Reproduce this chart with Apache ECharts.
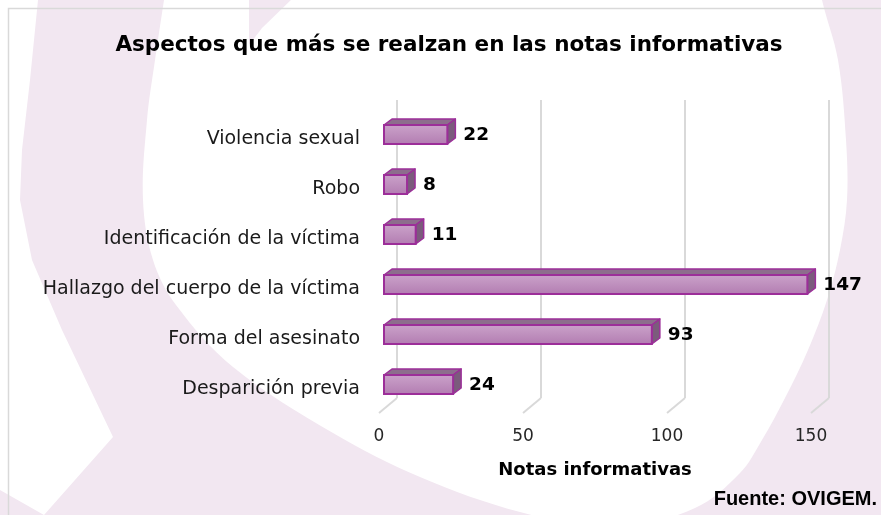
<!DOCTYPE html>
<html>
<head>
<meta charset="utf-8">
<script src="https://cdn.jsdelivr.net/npm/echarts@6/dist/echarts.min.js"></script>
<style>
html,body{margin:0;padding:0;background:#fff;}
#chart{width:881px;height:515px;}
</style>
</head>
<body>
<div id="chart"></div>
<script>
// ---- data ----
const categories = ['Violencia sexual', 'Robo', 'Identificación de la víctima', 'Hallazgo del cuerpo de la víctima', 'Forma del asesinato', 'Desparición previa'];
const values = [22, 8, 11, 147, 93, 24];
const xTicks = [0, 50, 100, 150];
const titleText = 'Aspectos que más se realzan en las notas informativas';
const xAxisName = 'Notas informativas';
const sourceText = 'Fuente: OVIGEM.';

const FONT = '"DejaVu Sans", sans-serif';
const PINK = '#f2e7f1';

const chart = echarts.init(document.getElementById('chart'), null, {renderer: 'canvas'});

const DX = 8, DY = -6, BH = 19;

const option = {
  backgroundColor: PINK,
  animation: false,
  title: {
    text: titleText,
    left: 449, top: 34, textAlign: 'center', padding: 0,
    textStyle: {fontFamily: FONT, fontSize: 21.5, fontWeight: 'bold', color: '#000'}
  },
  graphic: [
    {type: 'polygon', z: -10, silent: true,
      shape: {smooth: 0.35, points: [[170,-40],[164,0],[155,60],[147,120],[143,200],[153,260],[176,305],[233,367],[333,433],[420,477],[520,512],[615,528],[695,508],[740,473],[762,440],[785,398],[808,350],[827,300],[840,250],[847,200],[846,140],[838,60],[822,0],[815,-40]]},
      style: {fill: '#ffffff'}},
    {type: 'polygon', z: -10, silent: true,
      shape: {points: [[-10,-10],[40,-10],[38,0],[30,80],[22,150],[20,200],[32,260],[62,330],[113,437],[44,515],[0,490],[-10,490]]},
      style: {fill: '#ffffff'}},
    {type: 'polygon', z: -9, silent: true,
      shape: {points: [[249,-2],[293,-2],[262,28],[249,45]]},
      style: {fill: PINK}},
    {type: 'rect', z: -8, silent: true,
      shape: {x: 8.5, y: 8.5, width: 1000, height: 600},
      style: {fill: 'none', stroke: '#d9d9d9', lineWidth: 1.5}},
    {type: 'text', right: 4, top: 489, silent: true,
      style: {text: sourceText, fontFamily: '"Liberation Sans Narrow", "Liberation Sans", sans-serif', fontSize: 20, fontWeight: 'bold', fill: '#000'}}
  ],
  grid: [
    {left: 397, top: 100, width: 432, height: 298},
    {left: 384, top: 109.5, width: 432, height: 300},
    {left: 379, top: 100, width: 432, height: 313},
    {left: 384, top: 114.5, width: 432, height: 300}
  ],
  xAxis: [
    {gridIndex: 0, type: 'value', min: 0, max: 150, interval: 50,
      axisLine: {show: false}, axisTick: {show: false}, axisLabel: {show: false},
      splitLine: {show: true, lineStyle: {color: '#d9d9d9', width: 2}}},
    {gridIndex: 1, type: 'value', min: 0, max: 150, show: false},
    {gridIndex: 2, type: 'value', min: 0, max: 150, interval: 50,
      axisLine: {show: false}, axisTick: {show: false}, splitLine: {show: false},
      axisLabel: {show: true, margin: 15, fontFamily: FONT, fontSize: 17, color: '#262626'},
      name: xAxisName, nameLocation: 'middle', nameGap: 48,
      nameTextStyle: {fontFamily: FONT, fontSize: 18, fontWeight: 'bold', color: '#000'}},
    {gridIndex: 3, type: 'value', min: 0, max: 150, show: false}
  ],
  yAxis: [
    {gridIndex: 0, type: 'value', min: 0, max: 1, show: false},
    {gridIndex: 1, type: 'category', data: categories, inverse: true, show: false},
    {gridIndex: 2, type: 'value', min: 0, max: 1, show: false},
    {gridIndex: 3, type: 'category', data: categories, inverse: true,
      axisLine: {show: false}, axisTick: {show: false}, splitLine: {show: false},
      axisLabel: {margin: 24, fontFamily: FONT, fontSize: 19, color: '#1a1a1a'}}
  ],
  series: [
    {
      type: 'custom', xAxisIndex: 0, yAxisIndex: 0, z: 1, silent: true,
      data: xTicks.map(v => [v, 0]),
      renderItem: function (params, api) {
        const p = api.coord([api.value(0), 0]);
        return {type: 'line', shape: {x1: p[0], y1: p[1], x2: p[0] - 18, y2: p[1] + 15},
          style: {stroke: '#d9d9d9', lineWidth: 2}};
      }
    },
    {
      type: 'custom', xAxisIndex: 1, yAxisIndex: 1, z: 5, silent: true,
      data: values.map((v, i) => [v, i]),
      renderItem: function (params, api) {
        const v = api.value(0), i = api.value(1);
        const a = api.coord([0, i]);
        const b = api.coord([v, i]);
        const x0 = a[0], x1 = b[0], top = a[1] - BH / 2, bot = a[1] + BH / 2;
        const stroke = '#9c2e99';
        return {
          type: 'group',
          children: [
            {type: 'polygon', shape: {points: [[x0, top], [x0 + DX, top + DY], [x1 + DX, top + DY], [x1, top]]},
              style: {fill: '#8d6d8d', stroke: stroke, lineWidth: 1.5, lineJoin: 'round'}},
            {type: 'polygon', shape: {points: [[x1, top], [x1 + DX, top + DY], [x1 + DX, bot + DY], [x1, bot]]},
              style: {fill: '#7b5b7c', stroke: stroke, lineWidth: 1.5, lineJoin: 'round'}},
            {type: 'rect', shape: {x: x0, y: top, width: x1 - x0, height: BH},
              style: {fill: new echarts.graphic.LinearGradient(0, 0, 0, 1, [
                {offset: 0, color: '#cba3ca'}, {offset: 1, color: '#b27cb1'}]),
                stroke: stroke, lineWidth: 2}},
            {type: 'text', x: x1 + DX + 8, y: a[1] + 1,
              style: {text: String(v), fontFamily: FONT, fontSize: 18.5, fontWeight: 'bold', fill: '#000',
                verticalAlign: 'middle', align: 'left'}}
          ]
        };
      }
    }
  ]
};
chart.setOption(option);
</script>
</body>
</html>
